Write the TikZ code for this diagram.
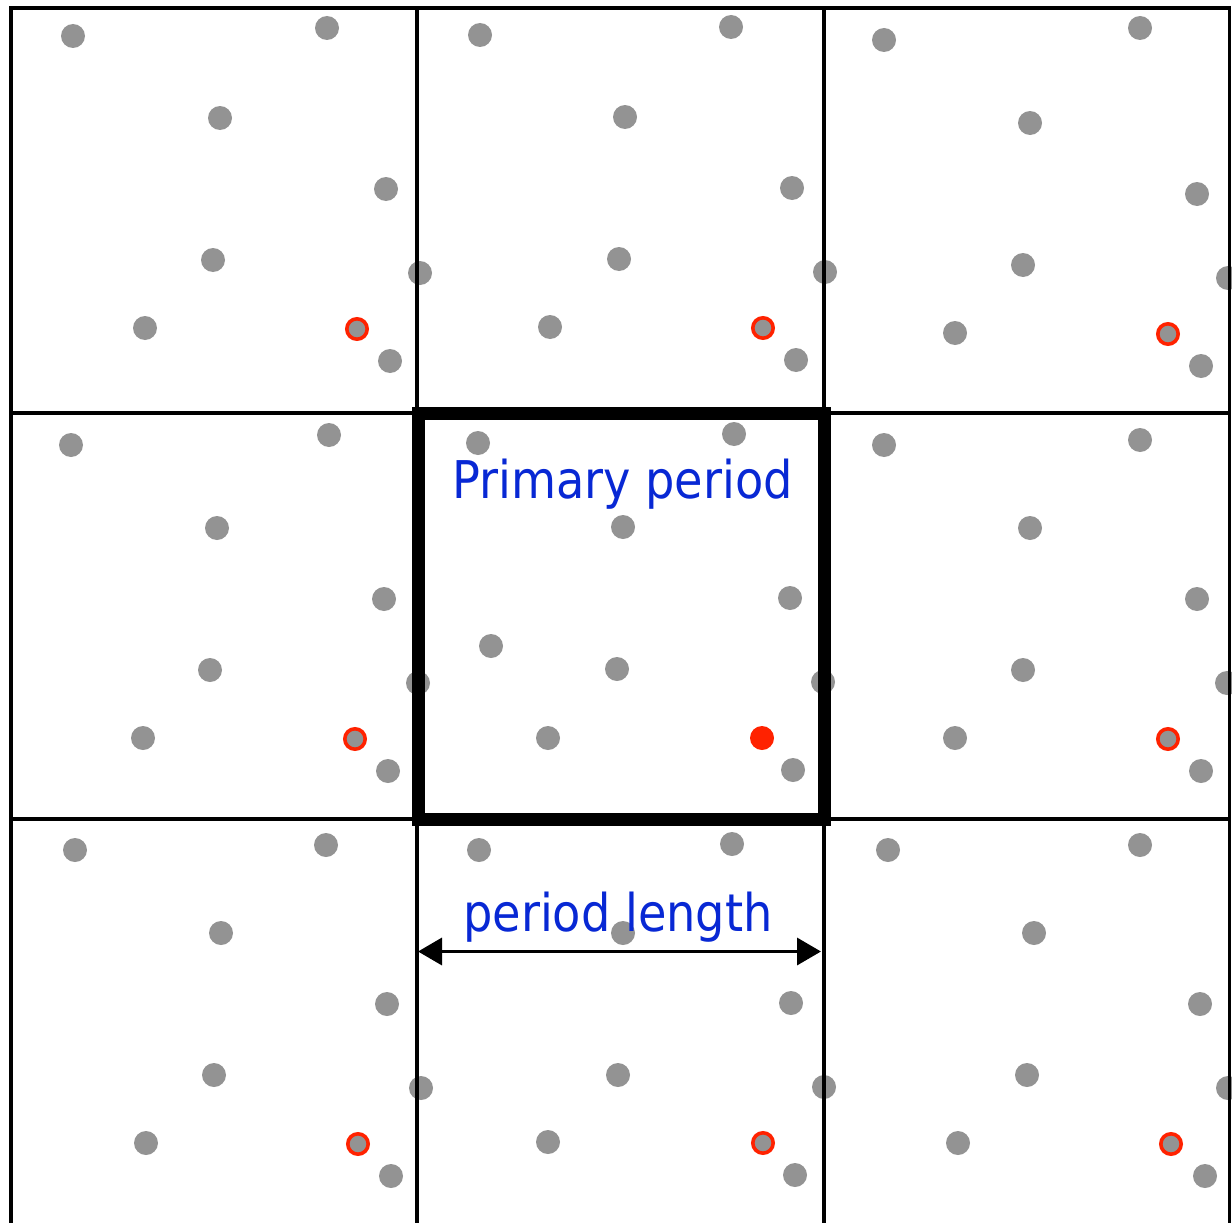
\documentclass[tikz,border=0pt]{standalone}
\usepackage{fontspec}
\setmainfont{DejaVu Sans}
\usetikzlibrary{arrows.meta}
\definecolor{dotgray}{RGB}{147,147,147}
\definecolor{ringred}{RGB}{255,34,0}
\definecolor{txtblue}{RGB}{8,40,212}
\begin{document}
\begin{tikzpicture}[x=1pt,y=-1pt,
  gridline/.style={line width=3.8pt,black},
  boldbox/.style={line width=13pt,black},
  graydot/.style={fill=dotgray},
  ringdot/.style={fill=dotgray,draw=ringred,line width=3.6pt},
  reddot/.style={fill=ringred},
  label/.style={text=txtblue,font=\fontsize{52}{60}\selectfont,xscale=0.89,inner sep=0pt,anchor=base},
  dimarrow/.style={line width=3.5pt,{Triangle[length=24pt,width=27pt]}-{Triangle[length=24pt,width=27pt]}}]
\useasboundingbox (0,0) rectangle (1232,1223);
\begin{scope}
\clip (0,0) rectangle (1232,1223);
% gray dots
\foreach \px/\py in {
  73/36, 327/28, 220/118, 386/189, 213/260, 145/328, 390/361,
  480/35, 731/27, 625/117, 792/188, 619/259, 550/327, 796/360, 420/273,
  884/40, 1140/28, 1030/123, 1197/194, 1023/265, 955/333, 1201/366, 825/272, 1228/278,
  71/445, 329/435, 217/528, 384/599, 210/670, 143/738, 388/771,
  478/443, 734/434, 623/527, 790/598, 491/646, 617/669, 548/738, 793/770, 418/683, 823/682,
  884/445, 1140/440, 1030/528, 1197/599, 1023/670, 955/738, 1201/771, 1227/683,
  75/850, 326/845, 221/933, 387/1004, 214/1075, 146/1143, 391/1176,
  479/850, 732/844, 623/933, 791/1003, 618/1075, 548/1142, 795/1175, 421/1088, 824/1087,
  888/850, 1140/845, 1034/933, 1200/1004, 1027/1075, 958/1143, 1205/1176, 1228/1088}
  \fill[graydot] (\px,\py) circle[radius=12pt];
% red ringed copies
\foreach \px/\py in {357/329, 763/328, 1168/334, 355/739, 1168/739, 358/1144, 763/1143, 1171/1144}
  \filldraw[ringdot] (\px,\py) circle[radius=10.2pt];
% the original red point
\fill[reddot] (762,738) circle[radius=12pt];
% grid
\draw[gridline] (10.7,1230) -- (10.7,8) -- (1229.5,8) -- (1229.5,1230);
\draw[gridline] (417,8) -- (417,1230);
\draw[gridline] (824,8) -- (824,1230);
\draw[gridline] (10.7,413) -- (1229.5,413);
\draw[gridline] (10.7,819) -- (1229.5,819);
\end{scope}
% primary period
\draw[boldbox] (418,413) rectangle (824,819);
\node[label] (prim) at (622.5,498) {Primary period};
% period length
\node[label] (plen) at (618,931) {period length};
\coordinate (aL) at (418,951.5);
\coordinate (aR) at (821,951.5);
\draw[dimarrow] (aL) -- (aR);
\end{tikzpicture}
\end{document}
